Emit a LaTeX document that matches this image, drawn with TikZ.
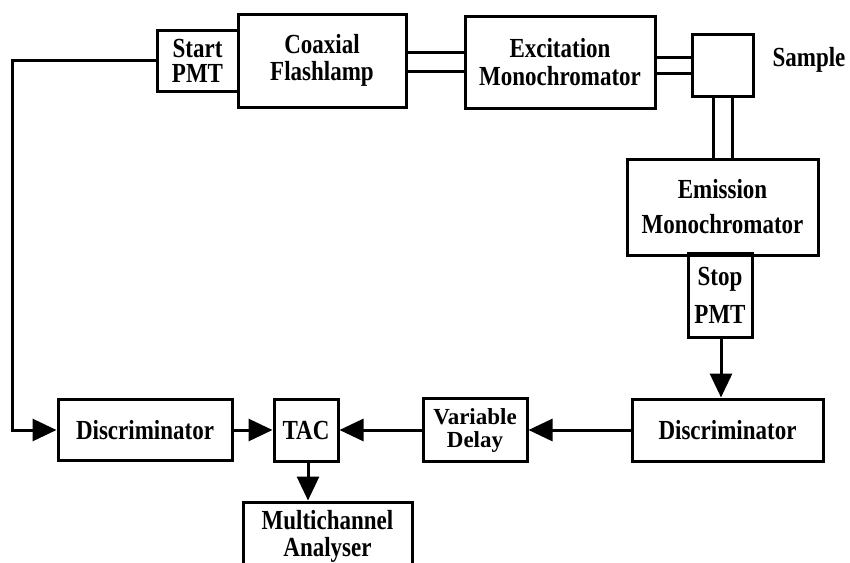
\documentclass[tikz,border=0pt]{standalone}
\usepackage{fontspec}
\setmainfont{Liberation Serif}
\usetikzlibrary{arrows.meta}
\newcommand\vt[1]{\scalebox{1}[1.2]{#1}}
\tikzset{
  box/.style={draw, line width=3pt, inner sep=0pt, align=center,
    font=\bfseries\fontsize{23}{#1}\selectfont},
  box/.default=27,
  conn/.style={line width=3pt},
  arr/.style={conn, -{Triangle[length=24pt,width=22pt]}},
  lbl/.style={inner sep=0pt, font=\bfseries\fontsize{23}{27}\selectfont},
}
\begin{document}
\begin{tikzpicture}[x=1pt,y=-1pt]
\useasboundingbox (0,0) rectangle (850,562);
% top row
\node[box=25, minimum width=81pt, minimum height=61pt] (spmt) at (197.5,60.5) {\vt{Start}\\\vt{PMT}};
\node[box=27, minimum width=168pt, minimum height=93pt] (flash) at (322,60.5) {\vt{Coaxial}\\\vt{Flashlamp}};
\node[box=28, minimum width=190pt, minimum height=92pt] (exc) at (560,62) {\vt{Excitation}\\\vt{Monochromator}};
\node[box, minimum width=61pt, minimum height=62pt] (sample) at (722.5,65) {};
\node[lbl] (samplelbl) at (809,60) {\vt{Sample}};
% right column
\node[box=35, minimum width=191pt, minimum height=96pt] (emis) at (722.5,207) {\vt{Emission}\\\vt{Monochromator}};
\node[box=38, minimum width=64pt, minimum height=84pt] (stpmt) at (720,295) {\vt{Stop}\\\vt{PMT}};
% bottom row
\node[box, minimum width=191pt, minimum height=62pt] (disc2) at (727.5,430) {\vt{Discriminator}};
\node[box=23, minimum width=104pt, minimum height=63pt] (delay) at (475,430) {Variable\\Delay};
\node[box, minimum width=64pt, minimum height=62pt] (tac) at (306,430) {\vt{TAC}};
\node[box, minimum width=174pt, minimum height=61pt] (disc1) at (145,430) {\vt{Discriminator}};
\node[box=27, minimum width=169pt, minimum height=68pt] (mca) at (327.5,536) {\vt{Multichannel}\\\vt{Analyser}};
% optical double paths
\draw[conn] (flash.east |- 0,52) -- (exc.west |- 0,52);
\draw[conn] (flash.east |- 0,71) -- (exc.west |- 0,71);
\draw[conn] (exc.east |- 0,57) -- (sample.west |- 0,57);
\draw[conn] (exc.east |- 0,73) -- (sample.west |- 0,73);
\draw[conn] (sample.south -| 713,0) -- (emis.north -| 713,0);
\draw[conn] (sample.south -| 732,0) -- (emis.north -| 732,0);
% signal arrows
\draw[arr] (spmt.west) -- (12,60.5) |- (disc1.west);
\draw[arr] (disc1.east) -- (tac.west);
\draw[arr] (delay.west) -- (tac.east);
\draw[arr] (disc2.west) -- (delay.east);
\draw[arr] (stpmt.south -| 721,0) -- (disc2.north -| 721,0);
\draw[arr] (tac.south -| 308,0) -- (mca.north -| 308,0);
\end{tikzpicture}
\end{document}
